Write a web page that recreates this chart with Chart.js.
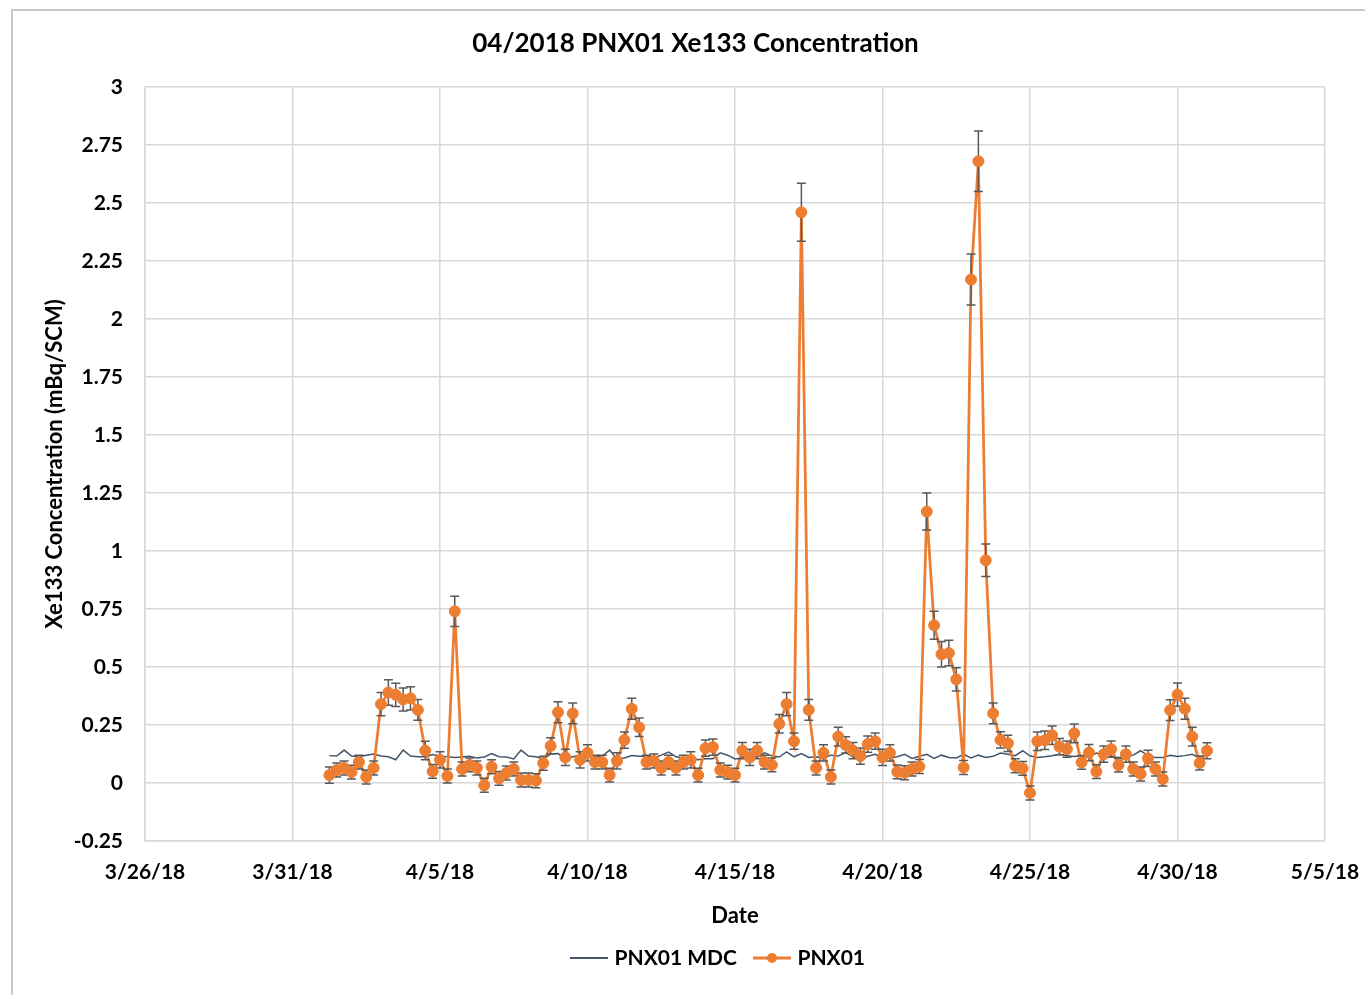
<!DOCTYPE html>
<html>
<head>
<meta charset="utf-8">
<title>04/2018 PNX01 Xe133 Concentration</title>
<script src="https://cdn.jsdelivr.net/npm/chart.js@4.4.1/dist/chart.umd.min.js"></script>
<style>
  html, body { margin: 0; padding: 0; background: #fff; overflow: hidden; }
  #frame { position: absolute; left: 11px; top: 9px; width: 1400px; height: 1000px;
           border-top: 2px solid #c8c8c8; border-left: 2px solid #c8c8c8; }
  #chart { position: absolute; left: 0; top: 0; }
</style>
</head>
<body>
<div id="frame"></div>
<canvas id="chart" width="1365" height="995"></canvas>
<script>
// ---------- data ----------
// x axis is in days counted from 3/26/18
const xTickLabels = ["3/26/18", "3/31/18", "4/5/18", "4/10/18", "4/15/18", "4/20/18", "4/25/18", "4/30/18", "5/5/18"];
const firstSampleDay = 6.25;   // 4/1/18 06:00
const sampleStepDays = 0.25;   // one sample every 6 h

// PNX01 Xe133 concentration (mBq/SCM)
const pnxValues = [
  0.034, 0.056, 0.065, 0.047, 0.09, 0.026, 0.065, 0.34, 0.39, 0.38,
  0.36, 0.365, 0.315, 0.14, 0.05, 0.10, 0.03, 0.74, 0.06, 0.078,
  0.065, -0.01, 0.07, 0.02, 0.043, 0.06, 0.013, 0.013, 0.01, 0.085,
  0.16, 0.305, 0.11, 0.30, 0.10, 0.13, 0.09, 0.09, 0.034, 0.095,
  0.185, 0.32, 0.24, 0.09, 0.095, 0.065, 0.09, 0.065, 0.09, 0.10,
  0.034, 0.15, 0.155, 0.056, 0.047, 0.034, 0.14, 0.11, 0.14, 0.09,
  0.078, 0.255, 0.34, 0.18, 2.46, 0.315, 0.065, 0.13, 0.026, 0.20,
  0.164, 0.14, 0.116, 0.168, 0.18, 0.11, 0.13, 0.048, 0.044, 0.06,
  0.071, 1.17, 0.68, 0.555, 0.56, 0.447, 0.067, 2.17, 2.68, 0.96,
  0.30, 0.186, 0.171, 0.074, 0.063, -0.043, 0.18, 0.184, 0.206, 0.157,
  0.146, 0.214, 0.089, 0.131, 0.049, 0.124, 0.146, 0.077, 0.124, 0.06,
  0.039, 0.106, 0.06, 0.017, 0.314, 0.381, 0.32, 0.20, 0.086, 0.139
];

// +/- uncertainty of each PNX01 value
const pnxErrors = [
  0.035, 0.03, 0.03, 0.03, 0.03, 0.03, 0.03, 0.05, 0.055, 0.05,
  0.05, 0.05, 0.045, 0.04, 0.03, 0.035, 0.03, 0.065, 0.03, 0.03,
  0.03, 0.03, 0.03, 0.03, 0.03, 0.03, 0.03, 0.03, 0.03, 0.03,
  0.035, 0.045, 0.035, 0.045, 0.035, 0.035, 0.03, 0.03, 0.03, 0.035,
  0.035, 0.045, 0.04, 0.03, 0.03, 0.03, 0.03, 0.03, 0.03, 0.035,
  0.03, 0.035, 0.035, 0.03, 0.03, 0.03, 0.035, 0.035, 0.035, 0.03,
  0.03, 0.04, 0.05, 0.035, 0.125, 0.045, 0.03, 0.035, 0.03, 0.04,
  0.035, 0.035, 0.035, 0.035, 0.035, 0.035, 0.035, 0.03, 0.03, 0.03,
  0.03, 0.08, 0.06, 0.055, 0.055, 0.05, 0.03, 0.11, 0.13, 0.07,
  0.045, 0.035, 0.035, 0.03, 0.03, 0.03, 0.04, 0.04, 0.04, 0.035,
  0.035, 0.04, 0.03, 0.035, 0.03, 0.035, 0.035, 0.03, 0.035, 0.03,
  0.03, 0.035, 0.03, 0.03, 0.045, 0.05, 0.045, 0.04, 0.03, 0.035
];

// PNX01 minimum detectable concentration
const mdcValues = [
  0.118, 0.116, 0.142, 0.116, 0.113, 0.12, 0.125, 0.116, 0.113, 0.100,
  0.142, 0.116, 0.113, 0.113, 0.123, 0.115, 0.113, 0.110, 0.112, 0.115,
  0.108, 0.112, 0.127, 0.113, 0.112, 0.104, 0.142, 0.116, 0.113, 0.104,
  0.125, 0.127, 0.105, 0.113, 0.12, 0.13, 0.113, 0.116, 0.142, 0.104,
  0.108, 0.118, 0.115, 0.116, 0.108, 0.12, 0.133, 0.113, 0.108, 0.11,
  0.10, 0.104, 0.104, 0.13, 0.12, 0.104, 0.108, 0.123, 0.11, 0.13,
  0.117, 0.112, 0.134, 0.113, 0.127, 0.11, 0.113, 0.106, 0.12, 0.116,
  0.131, 0.113, 0.103, 0.115, 0.124, 0.108, 0.108, 0.113, 0.124, 0.106,
  0.115, 0.124, 0.106, 0.12, 0.11, 0.108, 0.124, 0.108, 0.12, 0.11,
  0.115, 0.129, 0.124, 0.118, 0.139, 0.117, 0.11, 0.113, 0.117, 0.124,
  0.117, 0.114, 0.117, 0.113, 0.129, 0.12, 0.114, 0.11, 0.114, 0.12,
  0.139, 0.117, 0.11, 0.11, 0.12, 0.114, 0.118, 0.124, 0.108, 0.12
];

// ---------- helpers ----------
const ORANGE = "#ED7D31";
const SLATE = "#44546A";
const GRID = "#d9d9d9";
const FONT = "Lato, 'Open Sans', sans-serif";

const toPoints = (vals) => vals.map((v, i) => ({ x: firstSampleDay + i * sampleStepDays, y: v }));

// little legend glyphs (line, line + dot)
function legendGlyph(color, width, dot) {
  const c = document.createElement("canvas");
  c.width = 38;
  c.height = 14;
  const g = c.getContext("2d");
  g.strokeStyle = color;
  g.lineWidth = width;
  g.beginPath();
  g.moveTo(0, 7);
  g.lineTo(38, 7);
  g.stroke();
  if (dot) {
    g.fillStyle = color;
    g.beginPath();
    g.arc(19, 7, 5, 0, Math.PI * 2);
    g.fill();
  }
  return c;
}

// vertical error bars with caps, drawn just under the markers
const errorBars = {
  id: "errorBars",
  beforeDatasetDraw(chart, args) {
    if (args.index !== 0) return;
    const yScale = chart.scales.y;
    const ctx = chart.ctx;
    ctx.save();
    ctx.strokeStyle = "#595959";
    ctx.lineWidth = 1.5;
    args.meta.data.forEach((pt, i) => {
      const top = yScale.getPixelForValue(pnxValues[i] + pnxErrors[i]);
      const bot = yScale.getPixelForValue(pnxValues[i] - pnxErrors[i]);
      ctx.beginPath();
      ctx.moveTo(pt.x, top);
      ctx.lineTo(pt.x, bot);
      ctx.moveTo(pt.x - 4.5, top);
      ctx.lineTo(pt.x + 4.5, top);
      ctx.moveTo(pt.x - 4.5, bot);
      ctx.lineTo(pt.x + 4.5, bot);
      ctx.stroke();
    });
    ctx.restore();
  }
};

// Excel centres the legend a bit right of the title
const legendNudge = {
  id: "legendNudge",
  afterLayout(chart) {
    chart.legend.left += 24;
    chart.legend.right += 24;
  }
};

// ---------- chart ----------
new Chart(document.getElementById("chart"), {
  type: "line",
  data: {
    datasets: [
      {
        label: "PNX01 markers",
        data: toPoints(pnxValues),
        showLine: false,
        pointRadius: 5.5,
        pointBackgroundColor: ORANGE,
        pointBorderColor: ORANGE,
        pointBorderWidth: 1,
        order: 0
      },
      {
        label: "PNX01",
        data: toPoints(pnxValues),
        borderColor: ORANGE,
        borderWidth: 2.75,
        pointRadius: 0,
        tension: 0,
        order: 1
      },
      {
        label: "PNX01 MDC",
        data: toPoints(mdcValues),
        borderColor: SLATE,
        borderWidth: 1.5,
        pointRadius: 0,
        tension: 0,
        order: 2
      }
    ]
  },
  options: {
    responsive: false,
    animation: false,
    events: [],
    layout: { padding: { left: 66, right: 40, top: 10, bottom: 16.5 } },
    plugins: {
      title: {
        display: true,
        text: "04/2018 PNX01 Xe133 Concentration",
        color: "#000",
        font: { family: FONT, size: 26, weight: "bold" },
        padding: { top: 18.4, bottom: 27.4 }
      },
      legend: {
        position: "bottom",
        labels: {
          usePointStyle: true,
          pointStyleWidth: 30,
          padding: 20,
          color: "#000",
          font: { family: FONT, size: 21, weight: "bold" },
          generateLabels: () => [
            { text: "PNX01 MDC", pointStyle: legendGlyph(SLATE, 2, false), lineWidth: 0, fillStyle: SLATE, strokeStyle: SLATE, datasetIndex: 2 },
            { text: "PNX01", pointStyle: legendGlyph(ORANGE, 3, true), lineWidth: 0, fillStyle: ORANGE, strokeStyle: ORANGE, datasetIndex: 1 }
          ]
        }
      },
      tooltip: { enabled: false }
    },
    scales: {
      x: {
        type: "linear",
        min: 0,
        max: 40,
        afterFit: (s) => { s.height = 86.5; s.paddingLeft = 0; s.paddingRight = 0; },
        ticks: {
          stepSize: 5,
          padding: 18.4,
          maxRotation: 0,
          color: "#000",
          font: { family: FONT, size: 21, weight: "bold" },
          callback: (v) => xTickLabels[Math.round(v / 5)]
        },
        grid: { color: GRID, lineWidth: 1.5, drawTicks: false },
        border: { color: GRID, width: 1.5 },
        title: {
          display: true,
          text: "Date",
          color: "#000",
          font: { family: FONT, size: 22, weight: "bold" },
          padding: { top: 0, bottom: -1.7 }
        }
      },
      y: {
        min: -0.25,
        max: 3,
        afterFit: (s) => { s.width = 79; },
        ticks: {
          stepSize: 0.25,
          padding: 22,
          color: "#000",
          font: { family: FONT, size: 21, weight: "bold" },
          callback: (v) => String(Math.round(v * 100) / 100)
        },
        grid: { color: GRID, lineWidth: 1.5, drawTicks: false },
        border: { color: GRID, width: 1.5 },
        title: {
          display: true,
          text: "Xe133 Concentration (mBq/SCM)",
          color: "#000",
          font: { family: FONT, size: 22, weight: "bold" },
          padding: { top: -24.2, bottom: 0 }
        }
      }
    }
  },
  plugins: [errorBars, legendNudge]
});
</script>
</body>
</html>
